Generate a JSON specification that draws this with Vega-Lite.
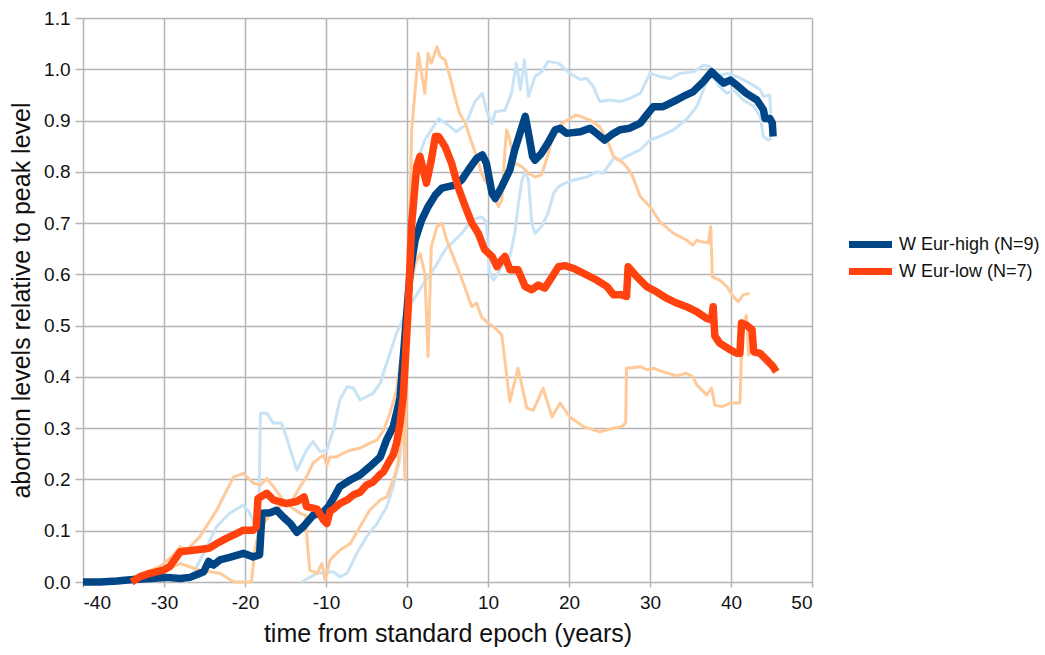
{
  "$schema": "https://vega.github.io/schema/vega-lite/v6.json",
  "autosize": "none",
  "width": 729,
  "height": 564,
  "padding": {"left": 83, "top": 18, "right": 233, "bottom": 73},
  "background": "white",
  "config": {
    "view": {"stroke": null},
    "font": "Liberation Sans",
    "axis": {
      "grid": true,
      "gridColor": "#b4b4b4",
      "gridWidth": 1.5,
      "domain": false,
      "tickColor": "#b4b4b4",
      "tickWidth": 1.5,
      "labelFont": "Liberation Sans",
      "labelFontSize": 19,
      "labelColor": "#111111",
      "titleFont": "Liberation Sans",
      "titleFontSize": 25,
      "titleFontWeight": "normal",
      "titleColor": "#111111"
    },
    "legend": {
      "labelFont": "Liberation Sans",
      "labelFontSize": 18,
      "labelColor": "#111111",
      "labelLimit": 400
    }
  },
  "datasets": {
    "main": [
      {"s": "W Eur-high (N=9)", "x": -40, "y": 0},
      {"s": "W Eur-high (N=9)", "x": -37.9, "y": 0},
      {"s": "W Eur-high (N=9)", "x": -35.8, "y": 0.002},
      {"s": "W Eur-high (N=9)", "x": -33.8, "y": 0.005},
      {"s": "W Eur-high (N=9)", "x": -31.7, "y": 0.007},
      {"s": "W Eur-high (N=9)", "x": -29.7, "y": 0.009},
      {"s": "W Eur-high (N=9)", "x": -28, "y": 0.007},
      {"s": "W Eur-high (N=9)", "x": -26.8, "y": 0.009},
      {"s": "W Eur-high (N=9)", "x": -26, "y": 0.014},
      {"s": "W Eur-high (N=9)", "x": -25.1, "y": 0.02},
      {"s": "W Eur-high (N=9)", "x": -24.5, "y": 0.04},
      {"s": "W Eur-high (N=9)", "x": -23.9, "y": 0.033},
      {"s": "W Eur-high (N=9)", "x": -23.1, "y": 0.043},
      {"s": "W Eur-high (N=9)", "x": -21.9, "y": 0.048},
      {"s": "W Eur-high (N=9)", "x": -20.2, "y": 0.056},
      {"s": "W Eur-high (N=9)", "x": -19, "y": 0.049},
      {"s": "W Eur-high (N=9)", "x": -18.2, "y": 0.053},
      {"s": "W Eur-high (N=9)", "x": -17.9, "y": 0.134},
      {"s": "W Eur-high (N=9)", "x": -16.9, "y": 0.135},
      {"s": "W Eur-high (N=9)", "x": -16.1, "y": 0.14},
      {"s": "W Eur-high (N=9)", "x": -15.3, "y": 0.127},
      {"s": "W Eur-high (N=9)", "x": -14.4, "y": 0.114},
      {"s": "W Eur-high (N=9)", "x": -13.6, "y": 0.097},
      {"s": "W Eur-high (N=9)", "x": -12.8, "y": 0.108},
      {"s": "W Eur-high (N=9)", "x": -11.6, "y": 0.13},
      {"s": "W Eur-high (N=9)", "x": -10.3, "y": 0.137},
      {"s": "W Eur-high (N=9)", "x": -9.7, "y": 0.147},
      {"s": "W Eur-high (N=9)", "x": -9.1, "y": 0.163},
      {"s": "W Eur-high (N=9)", "x": -8.3, "y": 0.186},
      {"s": "W Eur-high (N=9)", "x": -7, "y": 0.199},
      {"s": "W Eur-high (N=9)", "x": -5.8, "y": 0.209},
      {"s": "W Eur-high (N=9)", "x": -4.6, "y": 0.225},
      {"s": "W Eur-high (N=9)", "x": -3.3, "y": 0.244},
      {"s": "W Eur-high (N=9)", "x": -2.5, "y": 0.278},
      {"s": "W Eur-high (N=9)", "x": -1.7, "y": 0.303},
      {"s": "W Eur-high (N=9)", "x": -1.2, "y": 0.335},
      {"s": "W Eur-high (N=9)", "x": -0.86, "y": 0.36},
      {"s": "W Eur-high (N=9)", "x": -0.5, "y": 0.43},
      {"s": "W Eur-high (N=9)", "x": -0.25, "y": 0.48},
      {"s": "W Eur-high (N=9)", "x": 0, "y": 0.53},
      {"s": "W Eur-high (N=9)", "x": 0.37, "y": 0.602},
      {"s": "W Eur-high (N=9)", "x": 1.0, "y": 0.667},
      {"s": "W Eur-high (N=9)", "x": 1.8, "y": 0.706},
      {"s": "W Eur-high (N=9)", "x": 2.6, "y": 0.732},
      {"s": "W Eur-high (N=9)", "x": 3.5, "y": 0.755},
      {"s": "W Eur-high (N=9)", "x": 4.3, "y": 0.768},
      {"s": "W Eur-high (N=9)", "x": 5.1, "y": 0.771},
      {"s": "W Eur-high (N=9)", "x": 5.9, "y": 0.774},
      {"s": "W Eur-high (N=9)", "x": 6.75, "y": 0.784},
      {"s": "W Eur-high (N=9)", "x": 7.6, "y": 0.804},
      {"s": "W Eur-high (N=9)", "x": 8.6, "y": 0.826},
      {"s": "W Eur-high (N=9)", "x": 9.3, "y": 0.833},
      {"s": "W Eur-high (N=9)", "x": 9.8, "y": 0.817},
      {"s": "W Eur-high (N=9)", "x": 10.5, "y": 0.758},
      {"s": "W Eur-high (N=9)", "x": 10.9, "y": 0.748},
      {"s": "W Eur-high (N=9)", "x": 11.7, "y": 0.771},
      {"s": "W Eur-high (N=9)", "x": 12.7, "y": 0.804},
      {"s": "W Eur-high (N=9)", "x": 13.3, "y": 0.843},
      {"s": "W Eur-high (N=9)", "x": 14.2, "y": 0.888},
      {"s": "W Eur-high (N=9)", "x": 14.6, "y": 0.908},
      {"s": "W Eur-high (N=9)", "x": 15.0, "y": 0.875},
      {"s": "W Eur-high (N=9)", "x": 15.5, "y": 0.83},
      {"s": "W Eur-high (N=9)", "x": 15.8, "y": 0.823},
      {"s": "W Eur-high (N=9)", "x": 16.6, "y": 0.836},
      {"s": "W Eur-high (N=9)", "x": 17.4, "y": 0.856},
      {"s": "W Eur-high (N=9)", "x": 18.3, "y": 0.882},
      {"s": "W Eur-high (N=9)", "x": 18.9, "y": 0.885},
      {"s": "W Eur-high (N=9)", "x": 19.7, "y": 0.875},
      {"s": "W Eur-high (N=9)", "x": 21.4, "y": 0.878},
      {"s": "W Eur-high (N=9)", "x": 22.6, "y": 0.885},
      {"s": "W Eur-high (N=9)", "x": 23.4, "y": 0.875},
      {"s": "W Eur-high (N=9)", "x": 24.4, "y": 0.862},
      {"s": "W Eur-high (N=9)", "x": 25.5, "y": 0.875},
      {"s": "W Eur-high (N=9)", "x": 26.3, "y": 0.882},
      {"s": "W Eur-high (N=9)", "x": 27.5, "y": 0.885},
      {"s": "W Eur-high (N=9)", "x": 28.8, "y": 0.895},
      {"s": "W Eur-high (N=9)", "x": 29.6, "y": 0.911},
      {"s": "W Eur-high (N=9)", "x": 30.4, "y": 0.927},
      {"s": "W Eur-high (N=9)", "x": 31.6, "y": 0.927},
      {"s": "W Eur-high (N=9)", "x": 32.9, "y": 0.937},
      {"s": "W Eur-high (N=9)", "x": 34.1, "y": 0.947},
      {"s": "W Eur-high (N=9)", "x": 35.3, "y": 0.956},
      {"s": "W Eur-high (N=9)", "x": 36.6, "y": 0.976},
      {"s": "W Eur-high (N=9)", "x": 37.6, "y": 0.995},
      {"s": "W Eur-high (N=9)", "x": 38.2, "y": 0.986},
      {"s": "W Eur-high (N=9)", "x": 39.1, "y": 0.973},
      {"s": "W Eur-high (N=9)", "x": 39.9, "y": 0.979},
      {"s": "W Eur-high (N=9)", "x": 40.7, "y": 0.969},
      {"s": "W Eur-high (N=9)", "x": 41.9, "y": 0.953},
      {"s": "W Eur-high (N=9)", "x": 43.2, "y": 0.94},
      {"s": "W Eur-high (N=9)", "x": 44.0, "y": 0.921},
      {"s": "W Eur-high (N=9)", "x": 44.2, "y": 0.904},
      {"s": "W Eur-high (N=9)", "x": 44.8, "y": 0.904},
      {"s": "W Eur-high (N=9)", "x": 45.1, "y": 0.895},
      {"s": "W Eur-high (N=9)", "x": 45.2, "y": 0.869},

      {"s": "W Eur-low (N=7)", "x": -34, "y": 0},
      {"s": "W Eur-low (N=7)", "x": -33, "y": 0.01},
      {"s": "W Eur-low (N=7)", "x": -31.7, "y": 0.017},
      {"s": "W Eur-low (N=7)", "x": -30.1, "y": 0.023},
      {"s": "W Eur-low (N=7)", "x": -29.3, "y": 0.03},
      {"s": "W Eur-low (N=7)", "x": -28, "y": 0.059},
      {"s": "W Eur-low (N=7)", "x": -26.4, "y": 0.062},
      {"s": "W Eur-low (N=7)", "x": -24.4, "y": 0.066},
      {"s": "W Eur-low (N=7)", "x": -23.5, "y": 0.075},
      {"s": "W Eur-low (N=7)", "x": -22.3, "y": 0.085},
      {"s": "W Eur-low (N=7)", "x": -21, "y": 0.095},
      {"s": "W Eur-low (N=7)", "x": -20.2, "y": 0.101},
      {"s": "W Eur-low (N=7)", "x": -19, "y": 0.101},
      {"s": "W Eur-low (N=7)", "x": -18.6, "y": 0.108},
      {"s": "W Eur-low (N=7)", "x": -18.4, "y": 0.163},
      {"s": "W Eur-low (N=7)", "x": -17.3, "y": 0.173},
      {"s": "W Eur-low (N=7)", "x": -16.5, "y": 0.16},
      {"s": "W Eur-low (N=7)", "x": -14.9, "y": 0.153},
      {"s": "W Eur-low (N=7)", "x": -13.6, "y": 0.157},
      {"s": "W Eur-low (N=7)", "x": -12.7, "y": 0.166},
      {"s": "W Eur-low (N=7)", "x": -12.4, "y": 0.147},
      {"s": "W Eur-low (N=7)", "x": -11.1, "y": 0.142},
      {"s": "W Eur-low (N=7)", "x": -10.3, "y": 0.121},
      {"s": "W Eur-low (N=7)", "x": -9.9, "y": 0.114},
      {"s": "W Eur-low (N=7)", "x": -9.5, "y": 0.138},
      {"s": "W Eur-low (N=7)", "x": -9.1, "y": 0.142},
      {"s": "W Eur-low (N=7)", "x": -8.3, "y": 0.153},
      {"s": "W Eur-low (N=7)", "x": -7.4, "y": 0.16},
      {"s": "W Eur-low (N=7)", "x": -6.6, "y": 0.17},
      {"s": "W Eur-low (N=7)", "x": -5.8, "y": 0.175},
      {"s": "W Eur-low (N=7)", "x": -5, "y": 0.189},
      {"s": "W Eur-low (N=7)", "x": -4.2, "y": 0.195},
      {"s": "W Eur-low (N=7)", "x": -3.3, "y": 0.21},
      {"s": "W Eur-low (N=7)", "x": -2.9, "y": 0.215},
      {"s": "W Eur-low (N=7)", "x": -2.1, "y": 0.238},
      {"s": "W Eur-low (N=7)", "x": -1.7, "y": 0.248},
      {"s": "W Eur-low (N=7)", "x": -1.3, "y": 0.27},
      {"s": "W Eur-low (N=7)", "x": -0.86, "y": 0.31},
      {"s": "W Eur-low (N=7)", "x": -0.46, "y": 0.361},
      {"s": "W Eur-low (N=7)", "x": 0.16, "y": 0.537},
      {"s": "W Eur-low (N=7)", "x": 0.58, "y": 0.70},
      {"s": "W Eur-low (N=7)", "x": 1.2, "y": 0.81},
      {"s": "W Eur-low (N=7)", "x": 1.6, "y": 0.83},
      {"s": "W Eur-low (N=7)", "x": 2.0, "y": 0.804},
      {"s": "W Eur-low (N=7)", "x": 2.4, "y": 0.778},
      {"s": "W Eur-low (N=7)", "x": 3.0, "y": 0.823},
      {"s": "W Eur-low (N=7)", "x": 3.5, "y": 0.869},
      {"s": "W Eur-low (N=7)", "x": 3.9, "y": 0.869},
      {"s": "W Eur-low (N=7)", "x": 4.7, "y": 0.849},
      {"s": "W Eur-low (N=7)", "x": 5.5, "y": 0.817},
      {"s": "W Eur-low (N=7)", "x": 6.3, "y": 0.771},
      {"s": "W Eur-low (N=7)", "x": 7.2, "y": 0.732},
      {"s": "W Eur-low (N=7)", "x": 8.0, "y": 0.70},
      {"s": "W Eur-low (N=7)", "x": 8.8, "y": 0.68},
      {"s": "W Eur-low (N=7)", "x": 9.6, "y": 0.648},
      {"s": "W Eur-low (N=7)", "x": 10.5, "y": 0.635},
      {"s": "W Eur-low (N=7)", "x": 11.1, "y": 0.615},
      {"s": "W Eur-low (N=7)", "x": 11.7, "y": 0.628},
      {"s": "W Eur-low (N=7)", "x": 12.1, "y": 0.635},
      {"s": "W Eur-low (N=7)", "x": 12.7, "y": 0.609},
      {"s": "W Eur-low (N=7)", "x": 13.7, "y": 0.609},
      {"s": "W Eur-low (N=7)", "x": 14.6, "y": 0.576},
      {"s": "W Eur-low (N=7)", "x": 15.4, "y": 0.57},
      {"s": "W Eur-low (N=7)", "x": 16.2, "y": 0.579},
      {"s": "W Eur-low (N=7)", "x": 17, "y": 0.573},
      {"s": "W Eur-low (N=7)", "x": 17.9, "y": 0.595},
      {"s": "W Eur-low (N=7)", "x": 18.7, "y": 0.615},
      {"s": "W Eur-low (N=7)", "x": 19.5, "y": 0.617},
      {"s": "W Eur-low (N=7)", "x": 20.5, "y": 0.612},
      {"s": "W Eur-low (N=7)", "x": 21.8, "y": 0.602},
      {"s": "W Eur-low (N=7)", "x": 23.4, "y": 0.589},
      {"s": "W Eur-low (N=7)", "x": 24.7, "y": 0.576},
      {"s": "W Eur-low (N=7)", "x": 25.5, "y": 0.56},
      {"s": "W Eur-low (N=7)", "x": 26.5, "y": 0.56},
      {"s": "W Eur-low (N=7)", "x": 27.1, "y": 0.557},
      {"s": "W Eur-low (N=7)", "x": 27.3, "y": 0.615},
      {"s": "W Eur-low (N=7)", "x": 28.4, "y": 0.595},
      {"s": "W Eur-low (N=7)", "x": 29.6, "y": 0.576},
      {"s": "W Eur-low (N=7)", "x": 30.8, "y": 0.566},
      {"s": "W Eur-low (N=7)", "x": 32.1, "y": 0.553},
      {"s": "W Eur-low (N=7)", "x": 33.3, "y": 0.544},
      {"s": "W Eur-low (N=7)", "x": 34.5, "y": 0.537},
      {"s": "W Eur-low (N=7)", "x": 35.8, "y": 0.527},
      {"s": "W Eur-low (N=7)", "x": 37, "y": 0.514},
      {"s": "W Eur-low (N=7)", "x": 37.6, "y": 0.511},
      {"s": "W Eur-low (N=7)", "x": 37.8, "y": 0.537},
      {"s": "W Eur-low (N=7)", "x": 38.0, "y": 0.48},
      {"s": "W Eur-low (N=7)", "x": 38.6, "y": 0.466},
      {"s": "W Eur-low (N=7)", "x": 39.9, "y": 0.453},
      {"s": "W Eur-low (N=7)", "x": 40.7, "y": 0.446},
      {"s": "W Eur-low (N=7)", "x": 41.1, "y": 0.446},
      {"s": "W Eur-low (N=7)", "x": 41.3, "y": 0.505},
      {"s": "W Eur-low (N=7)", "x": 41.9, "y": 0.501},
      {"s": "W Eur-low (N=7)", "x": 42.6, "y": 0.492},
      {"s": "W Eur-low (N=7)", "x": 42.8, "y": 0.449},
      {"s": "W Eur-low (N=7)", "x": 43.6, "y": 0.446},
      {"s": "W Eur-low (N=7)", "x": 44.4, "y": 0.433},
      {"s": "W Eur-low (N=7)", "x": 45.2, "y": 0.42},
      {"s": "W Eur-low (N=7)", "x": 45.6, "y": 0.41}
    ],
    "lightblue": [
      {"s": "a", "x": -27.5, "y": 0},
      {"s": "a", "x": -26.8, "y": 0.004},
      {"s": "a", "x": -24.7, "y": 0.069},
      {"s": "a", "x": -23.5, "y": 0.108},
      {"s": "a", "x": -21.9, "y": 0.134},
      {"s": "a", "x": -20.2, "y": 0.15},
      {"s": "a", "x": -19.4, "y": 0.134},
      {"s": "a", "x": -18.8, "y": 0.114},
      {"s": "a", "x": -18.3, "y": 0.114},
      {"s": "a", "x": -18.1, "y": 0.329},
      {"s": "a", "x": -17.3, "y": 0.329},
      {"s": "a", "x": -16.5, "y": 0.31},
      {"s": "a", "x": -15.5, "y": 0.31},
      {"s": "a", "x": -14.9, "y": 0.283},
      {"s": "a", "x": -14.0, "y": 0.238},
      {"s": "a", "x": -13.6, "y": 0.218},
      {"s": "a", "x": -12.4, "y": 0.257},
      {"s": "a", "x": -11.6, "y": 0.274},
      {"s": "a", "x": -10.7, "y": 0.254},
      {"s": "a", "x": -9.9, "y": 0.257},
      {"s": "a", "x": -9.1, "y": 0.296},
      {"s": "a", "x": -8.3, "y": 0.355},
      {"s": "a", "x": -7.4, "y": 0.381},
      {"s": "a", "x": -6.6, "y": 0.378},
      {"s": "a", "x": -5.8, "y": 0.355},
      {"s": "a", "x": -4.2, "y": 0.368},
      {"s": "a", "x": -3.3, "y": 0.388},
      {"s": "a", "x": -1.3, "y": 0.485},
      {"s": "a", "x": 0, "y": 0.53},
      {"s": "a", "x": 1.8, "y": 0.576},
      {"s": "a", "x": 3.5, "y": 0.615},
      {"s": "a", "x": 4.7, "y": 0.648},
      {"s": "a", "x": 6.75, "y": 0.68},
      {"s": "a", "x": 8.0, "y": 0.706},
      {"s": "a", "x": 9.2, "y": 0.712},
      {"s": "a", "x": 9.8, "y": 0.703},
      {"s": "a", "x": 10.2, "y": 0.602},
      {"s": "a", "x": 10.7, "y": 0.589},
      {"s": "a", "x": 11.7, "y": 0.615},
      {"s": "a", "x": 12.7, "y": 0.635},
      {"s": "a", "x": 13.3, "y": 0.68},
      {"s": "a", "x": 13.7, "y": 0.732},
      {"s": "a", "x": 14.2, "y": 0.784},
      {"s": "a", "x": 14.6, "y": 0.80},
      {"s": "a", "x": 15.0, "y": 0.784},
      {"s": "a", "x": 15.4, "y": 0.70},
      {"s": "a", "x": 15.8, "y": 0.68},
      {"s": "a", "x": 16.6, "y": 0.693},
      {"s": "a", "x": 17.4, "y": 0.719},
      {"s": "a", "x": 18.1, "y": 0.758},
      {"s": "a", "x": 18.7, "y": 0.771},
      {"s": "a", "x": 19.5, "y": 0.778},
      {"s": "a", "x": 20.5, "y": 0.784},
      {"s": "a", "x": 22.2, "y": 0.79},
      {"s": "a", "x": 23.4, "y": 0.80},
      {"s": "a", "x": 24.2, "y": 0.797},
      {"s": "a", "x": 25.5, "y": 0.826},
      {"s": "a", "x": 26.3, "y": 0.823},
      {"s": "a", "x": 27.1, "y": 0.83},
      {"s": "a", "x": 28.8, "y": 0.843},
      {"s": "a", "x": 30, "y": 0.862},
      {"s": "a", "x": 31.2, "y": 0.869},
      {"s": "a", "x": 32.9, "y": 0.882},
      {"s": "a", "x": 34.5, "y": 0.902},
      {"s": "a", "x": 35.8, "y": 0.928},
      {"s": "a", "x": 36.6, "y": 0.96},
      {"s": "a", "x": 37.2, "y": 0.989},
      {"s": "a", "x": 37.8, "y": 0.986},
      {"s": "a", "x": 38.6, "y": 0.966},
      {"s": "a", "x": 39.5, "y": 0.953},
      {"s": "a", "x": 40.3, "y": 0.96},
      {"s": "a", "x": 41.5, "y": 0.94},
      {"s": "a", "x": 42.8, "y": 0.928},
      {"s": "a", "x": 43.6, "y": 0.908},
      {"s": "a", "x": 44.0, "y": 0.869},
      {"s": "a", "x": 44.6, "y": 0.862},
      {"s": "a", "x": 45.0, "y": 0.866},

      {"s": "b", "x": -13, "y": 0},
      {"s": "b", "x": -11.1, "y": 0.017},
      {"s": "b", "x": -9.1, "y": 0.02},
      {"s": "b", "x": -8.3, "y": 0.01},
      {"s": "b", "x": -7.4, "y": 0.017},
      {"s": "b", "x": -6.2, "y": 0.056},
      {"s": "b", "x": -5.0, "y": 0.088},
      {"s": "b", "x": -3.7, "y": 0.114},
      {"s": "b", "x": -2.5, "y": 0.147},
      {"s": "b", "x": -1.7, "y": 0.186},
      {"s": "b", "x": -0.9, "y": 0.238},
      {"s": "b", "x": -0.4, "y": 0.33},
      {"s": "b", "x": 0, "y": 0.45},
      {"s": "b", "x": 0.6, "y": 0.62},
      {"s": "b", "x": 1.2, "y": 0.78},
      {"s": "b", "x": 1.7, "y": 0.84},
      {"s": "b", "x": 2.2, "y": 0.862},
      {"s": "b", "x": 3.9, "y": 0.904},
      {"s": "b", "x": 5.1, "y": 0.891},
      {"s": "b", "x": 6.1, "y": 0.878},
      {"s": "b", "x": 7.2, "y": 0.891},
      {"s": "b", "x": 8.4, "y": 0.937},
      {"s": "b", "x": 9.3, "y": 0.953},
      {"s": "b", "x": 9.8, "y": 0.92},
      {"s": "b", "x": 10.5, "y": 0.894},
      {"s": "b", "x": 10.9, "y": 0.917},
      {"s": "b", "x": 12.1, "y": 0.92},
      {"s": "b", "x": 12.9, "y": 0.953},
      {"s": "b", "x": 13.5, "y": 1.012},
      {"s": "b", "x": 14.0, "y": 0.96},
      {"s": "b", "x": 14.5, "y": 1.018},
      {"s": "b", "x": 15.0, "y": 0.947},
      {"s": "b", "x": 15.8, "y": 0.986},
      {"s": "b", "x": 16.6, "y": 0.995},
      {"s": "b", "x": 17.4, "y": 1.015},
      {"s": "b", "x": 18.7, "y": 1.012},
      {"s": "b", "x": 20.1, "y": 0.992},
      {"s": "b", "x": 21.4, "y": 0.98},
      {"s": "b", "x": 22.2, "y": 0.982},
      {"s": "b", "x": 23.0, "y": 0.966},
      {"s": "b", "x": 23.8, "y": 0.937},
      {"s": "b", "x": 25.1, "y": 0.94},
      {"s": "b", "x": 26.3, "y": 0.937},
      {"s": "b", "x": 27.5, "y": 0.943},
      {"s": "b", "x": 28.8, "y": 0.953},
      {"s": "b", "x": 30.0, "y": 0.992},
      {"s": "b", "x": 31.2, "y": 0.986},
      {"s": "b", "x": 32.5, "y": 0.982},
      {"s": "b", "x": 33.7, "y": 0.992},
      {"s": "b", "x": 35.4, "y": 0.995},
      {"s": "b", "x": 36.6, "y": 1.008},
      {"s": "b", "x": 37.4, "y": 1.005},
      {"s": "b", "x": 38.2, "y": 0.986},
      {"s": "b", "x": 39.5, "y": 0.992},
      {"s": "b", "x": 40.7, "y": 0.986},
      {"s": "b", "x": 42.3, "y": 0.973},
      {"s": "b", "x": 43.6, "y": 0.96},
      {"s": "b", "x": 44.0, "y": 0.947},
      {"s": "b", "x": 44.8, "y": 0.95},
      {"s": "b", "x": 45.0, "y": 0.869}
    ],
    "lightorange": [
      {"s": "u", "x": -34, "y": 0},
      {"s": "u", "x": -33, "y": 0.015},
      {"s": "u", "x": -30.5, "y": 0.03},
      {"s": "u", "x": -29, "y": 0.05},
      {"s": "u", "x": -28, "y": 0.069},
      {"s": "u", "x": -27.2, "y": 0.062},
      {"s": "u", "x": -25.6, "y": 0.088},
      {"s": "u", "x": -23.5, "y": 0.14},
      {"s": "u", "x": -21.4, "y": 0.205},
      {"s": "u", "x": -20.2, "y": 0.212},
      {"s": "u", "x": -19, "y": 0.193},
      {"s": "u", "x": -18.1, "y": 0.189},
      {"s": "u", "x": -17.3, "y": 0.202},
      {"s": "u", "x": -16.5, "y": 0.186},
      {"s": "u", "x": -15.3, "y": 0.16},
      {"s": "u", "x": -14.4, "y": 0.147},
      {"s": "u", "x": -13.2, "y": 0.134},
      {"s": "u", "x": -12.5, "y": 0.13},
      {"s": "u", "x": -12.3, "y": 0.075},
      {"s": "u", "x": -12, "y": 0.023},
      {"s": "u", "x": -11.1, "y": 0.017},
      {"s": "u", "x": -10.5, "y": 0.036},
      {"s": "u", "x": -10.1, "y": 0.004},
      {"s": "u", "x": -9.5, "y": 0.043},
      {"s": "u", "x": -8.3, "y": 0.062},
      {"s": "u", "x": -7, "y": 0.075},
      {"s": "u", "x": -5.8, "y": 0.108},
      {"s": "u", "x": -4.6, "y": 0.14},
      {"s": "u", "x": -3.3, "y": 0.16},
      {"s": "u", "x": -2.5, "y": 0.166},
      {"s": "u", "x": -1.7, "y": 0.199},
      {"s": "u", "x": -1.1, "y": 0.232},
      {"s": "u", "x": -0.65, "y": 0.296},
      {"s": "u", "x": -0.46, "y": 0.329},
      {"s": "u", "x": -0.25, "y": 0.199},
      {"s": "u", "x": 0.1, "y": 0.55},
      {"s": "u", "x": 0.58, "y": 0.882},
      {"s": "u", "x": 1.4, "y": 1.031},
      {"s": "u", "x": 1.8, "y": 0.992},
      {"s": "u", "x": 2.2, "y": 0.953},
      {"s": "u", "x": 2.6, "y": 1.031},
      {"s": "u", "x": 3.0, "y": 1.012},
      {"s": "u", "x": 3.7, "y": 1.044},
      {"s": "u", "x": 4.1, "y": 1.025},
      {"s": "u", "x": 4.7, "y": 1.018},
      {"s": "u", "x": 5.3, "y": 0.986},
      {"s": "u", "x": 5.9, "y": 0.947},
      {"s": "u", "x": 6.5, "y": 0.914},
      {"s": "u", "x": 7.2, "y": 0.895},
      {"s": "u", "x": 8.0, "y": 0.856},
      {"s": "u", "x": 8.6, "y": 0.83},
      {"s": "u", "x": 9.2, "y": 0.797},
      {"s": "u", "x": 9.6, "y": 0.784},
      {"s": "u", "x": 10.2, "y": 0.771},
      {"s": "u", "x": 10.9, "y": 0.745},
      {"s": "u", "x": 11.3, "y": 0.732},
      {"s": "u", "x": 11.7, "y": 0.745},
      {"s": "u", "x": 12.1, "y": 0.843},
      {"s": "u", "x": 12.3, "y": 0.882},
      {"s": "u", "x": 12.7, "y": 0.862},
      {"s": "u", "x": 13.3, "y": 0.817},
      {"s": "u", "x": 14.2, "y": 0.81},
      {"s": "u", "x": 15.0, "y": 0.797},
      {"s": "u", "x": 15.8, "y": 0.79},
      {"s": "u", "x": 16.6, "y": 0.794},
      {"s": "u", "x": 17.2, "y": 0.823},
      {"s": "u", "x": 17.9, "y": 0.862},
      {"s": "u", "x": 18.7, "y": 0.888},
      {"s": "u", "x": 19.5, "y": 0.898},
      {"s": "u", "x": 20.9, "y": 0.911},
      {"s": "u", "x": 22.6, "y": 0.901},
      {"s": "u", "x": 23.8, "y": 0.888},
      {"s": "u", "x": 24.7, "y": 0.862},
      {"s": "u", "x": 25.5, "y": 0.83},
      {"s": "u", "x": 26.7, "y": 0.817},
      {"s": "u", "x": 27.1, "y": 0.81},
      {"s": "u", "x": 27.7, "y": 0.797},
      {"s": "u", "x": 28.8, "y": 0.752},
      {"s": "u", "x": 30, "y": 0.732},
      {"s": "u", "x": 31.2, "y": 0.703},
      {"s": "u", "x": 32.9, "y": 0.68},
      {"s": "u", "x": 34.5, "y": 0.667},
      {"s": "u", "x": 35.3, "y": 0.657},
      {"s": "u", "x": 35.8, "y": 0.667},
      {"s": "u", "x": 36.2, "y": 0.664},
      {"s": "u", "x": 37.2, "y": 0.661},
      {"s": "u", "x": 37.5, "y": 0.693},
      {"s": "u", "x": 37.7, "y": 0.595},
      {"s": "u", "x": 38.6, "y": 0.589},
      {"s": "u", "x": 39.5, "y": 0.576},
      {"s": "u", "x": 40.3, "y": 0.556},
      {"s": "u", "x": 40.9, "y": 0.547},
      {"s": "u", "x": 41.5, "y": 0.56},
      {"s": "u", "x": 42.3, "y": 0.563},

      {"s": "l", "x": -34, "y": 0},
      {"s": "l", "x": -31, "y": 0.015},
      {"s": "l", "x": -28, "y": 0.036},
      {"s": "l", "x": -25.6, "y": 0.023},
      {"s": "l", "x": -23.1, "y": 0.017},
      {"s": "l", "x": -21.4, "y": 0.0},
      {"s": "l", "x": -19.2, "y": 0.0},
      {"s": "l", "x": -18.8, "y": 0.06},
      {"s": "l", "x": -18.3, "y": 0.1},
      {"s": "l", "x": -17, "y": 0.13},
      {"s": "l", "x": -15.5, "y": 0.15},
      {"s": "l", "x": -14.4, "y": 0.153},
      {"s": "l", "x": -13.2, "y": 0.186},
      {"s": "l", "x": -12.4, "y": 0.205},
      {"s": "l", "x": -11.6, "y": 0.232},
      {"s": "l", "x": -10.3, "y": 0.248},
      {"s": "l", "x": -9.9, "y": 0.228},
      {"s": "l", "x": -9.5, "y": 0.244},
      {"s": "l", "x": -8.7, "y": 0.244},
      {"s": "l", "x": -7.9, "y": 0.251},
      {"s": "l", "x": -7.0, "y": 0.257},
      {"s": "l", "x": -5.8, "y": 0.261},
      {"s": "l", "x": -4.6, "y": 0.271},
      {"s": "l", "x": -3.7, "y": 0.277},
      {"s": "l", "x": -2.9, "y": 0.296},
      {"s": "l", "x": -2.1, "y": 0.329},
      {"s": "l", "x": -1.3, "y": 0.374},
      {"s": "l", "x": -0.9, "y": 0.42},
      {"s": "l", "x": -0.46, "y": 0.466},
      {"s": "l", "x": 0.3, "y": 0.56},
      {"s": "l", "x": 1.0, "y": 0.62},
      {"s": "l", "x": 1.6, "y": 0.641},
      {"s": "l", "x": 2.2, "y": 0.602},
      {"s": "l", "x": 2.6, "y": 0.44},
      {"s": "l", "x": 3.0, "y": 0.654},
      {"s": "l", "x": 3.7, "y": 0.693},
      {"s": "l", "x": 4.3, "y": 0.70},
      {"s": "l", "x": 4.9, "y": 0.667},
      {"s": "l", "x": 5.7, "y": 0.635},
      {"s": "l", "x": 6.5, "y": 0.602},
      {"s": "l", "x": 7.4, "y": 0.563},
      {"s": "l", "x": 8.0, "y": 0.537},
      {"s": "l", "x": 8.6, "y": 0.544},
      {"s": "l", "x": 9.2, "y": 0.517},
      {"s": "l", "x": 10.0, "y": 0.505},
      {"s": "l", "x": 10.9, "y": 0.495},
      {"s": "l", "x": 11.7, "y": 0.482},
      {"s": "l", "x": 12.7, "y": 0.352},
      {"s": "l", "x": 13.7, "y": 0.417},
      {"s": "l", "x": 14.8, "y": 0.339},
      {"s": "l", "x": 15.6, "y": 0.335},
      {"s": "l", "x": 16.8, "y": 0.378},
      {"s": "l", "x": 17.9, "y": 0.322},
      {"s": "l", "x": 18.9, "y": 0.349},
      {"s": "l", "x": 20.1, "y": 0.322},
      {"s": "l", "x": 21.8, "y": 0.303},
      {"s": "l", "x": 23.8, "y": 0.293},
      {"s": "l", "x": 25.5, "y": 0.30},
      {"s": "l", "x": 26.5, "y": 0.303},
      {"s": "l", "x": 27.0, "y": 0.31},
      {"s": "l", "x": 27.1, "y": 0.417},
      {"s": "l", "x": 28.8, "y": 0.42},
      {"s": "l", "x": 29.6, "y": 0.414},
      {"s": "l", "x": 30.4, "y": 0.417},
      {"s": "l", "x": 31.6, "y": 0.41},
      {"s": "l", "x": 33.3, "y": 0.402},
      {"s": "l", "x": 34.5, "y": 0.407},
      {"s": "l", "x": 35.3, "y": 0.40},
      {"s": "l", "x": 35.8, "y": 0.384},
      {"s": "l", "x": 37.0, "y": 0.365},
      {"s": "l", "x": 37.6, "y": 0.378},
      {"s": "l", "x": 38.0, "y": 0.345},
      {"s": "l", "x": 38.9, "y": 0.342},
      {"s": "l", "x": 39.9, "y": 0.349},
      {"s": "l", "x": 41.1, "y": 0.349},
      {"s": "l", "x": 41.4, "y": 0.50},
      {"s": "l", "x": 41.9, "y": 0.52},
      {"s": "l", "x": 42.2, "y": 0.44}
    ]
  },
  "encoding": {
    "x": {
      "field": "x",
      "type": "quantitative",
      "scale": {"domain": [-40, 50], "nice": false, "zero": false},
      "axis": {
        "values": [-40, -30, -20, -10, 0, 10, 20, 30, 40, 50],
        "labelExpr": "'' + datum.value",
        "title": "time from standard epoch (years)",
        "tickSize": 5,
        "labelPadding": 6,
        "titlePadding": 9
      }
    },
    "y": {
      "field": "y",
      "type": "quantitative",
      "scale": {"domain": [0, 1.1], "nice": false, "zero": false},
      "axis": {
        "values": [0, 0.1, 0.2, 0.3, 0.4, 0.5, 0.6, 0.7, 0.8, 0.9, 1.0, 1.1],
        "format": ".1f",
        "title": "abortion levels relative to peak level",
        "tickSize": 8,
        "labelPadding": 5,
        "titlePadding": 9
      }
    }
  },
  "layer": [
    {
      "data": {"name": "lightblue"},
      "mark": {"type": "line", "color": "#c8e3f5", "strokeWidth": 3, "strokeJoin": "round"},
      "encoding": {"detail": {"field": "s", "type": "nominal"}}
    },
    {
      "data": {"name": "lightorange"},
      "mark": {"type": "line", "color": "#ffca99", "strokeWidth": 3, "strokeJoin": "round"},
      "encoding": {"detail": {"field": "s", "type": "nominal"}}
    },
    {
      "data": {"name": "main"},
      "mark": {"type": "line", "strokeWidth": 7.5, "strokeJoin": "round"},
      "encoding": {
        "color": {
          "field": "s",
          "type": "nominal",
          "scale": {"domain": ["W Eur-high (N=9)", "W Eur-low (N=7)"], "range": ["#004586", "#ff420e"]},
          "legend": {
            "title": null,
            "orient": "none",
            "legendX": 775,
            "legendY": 214,
            "symbolType": "M-2.5,0H2.5",
            "symbolSize": 296,
            "symbolStrokeWidth": 7,
            "labelOffset": 16,
            "rowPadding": -2,
            "padding": 0
          }
        }
      }
    }
  ]
}
